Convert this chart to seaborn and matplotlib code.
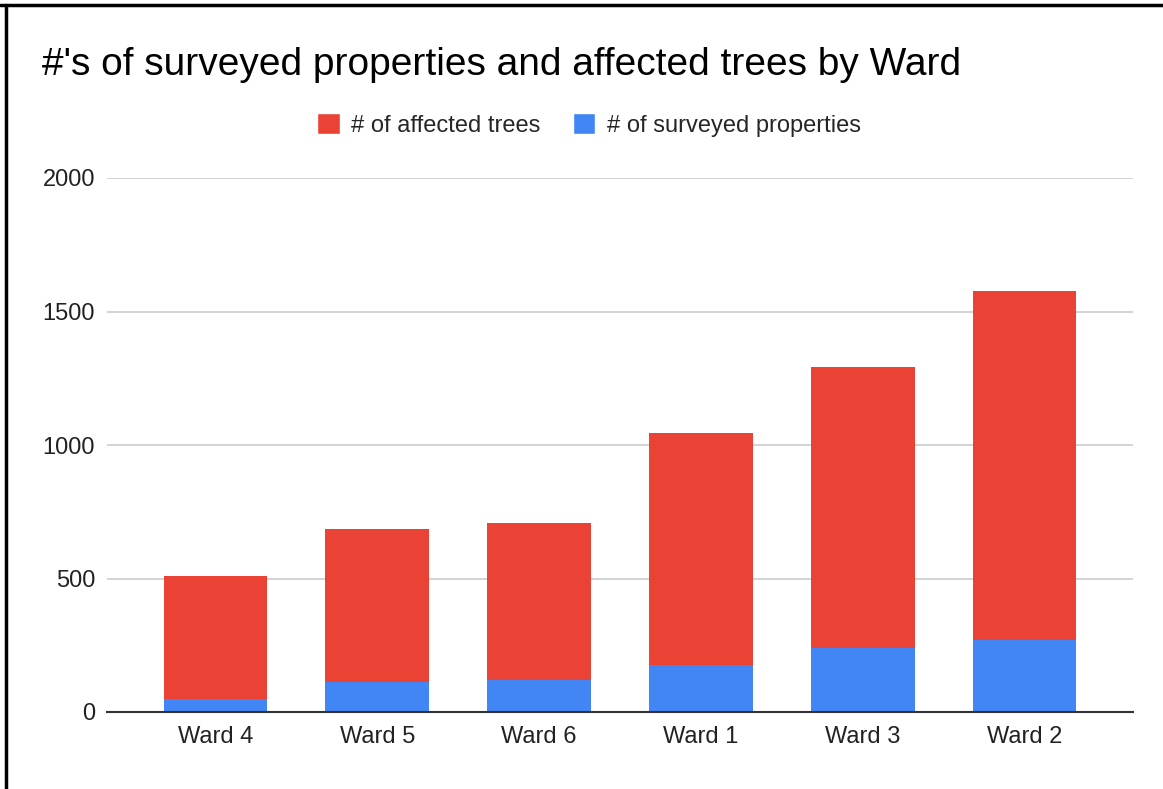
import pandas as pd
import seaborn as sns
import matplotlib.pyplot as plt
from matplotlib.patches import Patch
from matplotlib.lines import Line2D

# Data
wards = ["Ward 4", "Ward 5", "Ward 6", "Ward 1", "Ward 3", "Ward 2"]
surveyed_properties = [49, 112, 121, 176, 240, 271]
affected_trees = [461, 572, 585, 870, 1052, 1306]
y_ticks = [0, 500, 1000, 1500, 2000]

red = "#EA4335"
blue = "#4285F4"

data = pd.DataFrame({
    "Ward": wards,
    "Properties": surveyed_properties,
    "Trees": affected_trees,
})
# stacked: trees sit on top of properties
data["Total"] = data["Properties"] + data["Trees"]

sns.set_style("white")
plt.rcParams["font.family"] = ["Liberation Sans", "DejaVu Sans"]

fig = plt.figure(figsize=(11.63, 7.89), dpi=100)
ax = fig.add_axes([107 / 1163, 1 - 712 / 789, 1026 / 1163, 534 / 789])

sns.barplot(data=data, x="Ward", y="Total", color=red, width=0.64,
            saturation=1, linewidth=0, ax=ax, zorder=3)
sns.barplot(data=data, x="Ward", y="Properties", color=blue, width=0.64,
            saturation=1, linewidth=0, ax=ax, zorder=4)

ax.set_xlim(-0.67, 5.67)
ax.set_ylim(0, 2000)
ax.set_yticks(y_ticks)
ax.set_yticklabels([str(t) for t in y_ticks])
ax.set_xlabel("")
ax.set_ylabel("")
ax.yaxis.grid(True, color="#CCCCCC", linewidth=1.2, zorder=0)
ax.xaxis.grid(False)
for s in ["top", "right", "left"]:
    ax.spines[s].set_visible(False)
ax.spines["bottom"].set_color("#333333")
ax.spines["bottom"].set_linewidth(1.5)
ax.spines["bottom"].set_zorder(5)
ax.tick_params(axis="both", length=0, labelsize=17, colors="#222222")
ax.tick_params(axis="y", pad=8.5)
ax.tick_params(axis="x", pad=10)

fig.text(42 / 1163, 1 - 65 / 789, "#'s of surveyed properties and affected trees by Ward",
         fontsize=28, va="center", ha="left", color="#000000")

handles = [Patch(facecolor=red, label="# of affected trees"),
           Patch(facecolor=blue, label="# of surveyed properties")]
fig.legend(handles=handles, loc="center", bbox_to_anchor=(589 / 1163, 1 - 125 / 789),
           ncol=2, frameon=False, fontsize=17, handlelength=0.95, handleheight=0.95,
           handletextpad=0.5, columnspacing=1.35)

# screenshot frame
fig.add_artist(Line2D([0, 1], [1 - 5 / 789, 1 - 5 / 789], color="black", linewidth=2.5,
                      transform=fig.transFigure))
fig.add_artist(Line2D([6 / 1163, 6 / 1163], [0, 1 - 5 / 789], color="black", linewidth=2.5,
                      transform=fig.transFigure))

fig.savefig("out.png", dpi=100)
